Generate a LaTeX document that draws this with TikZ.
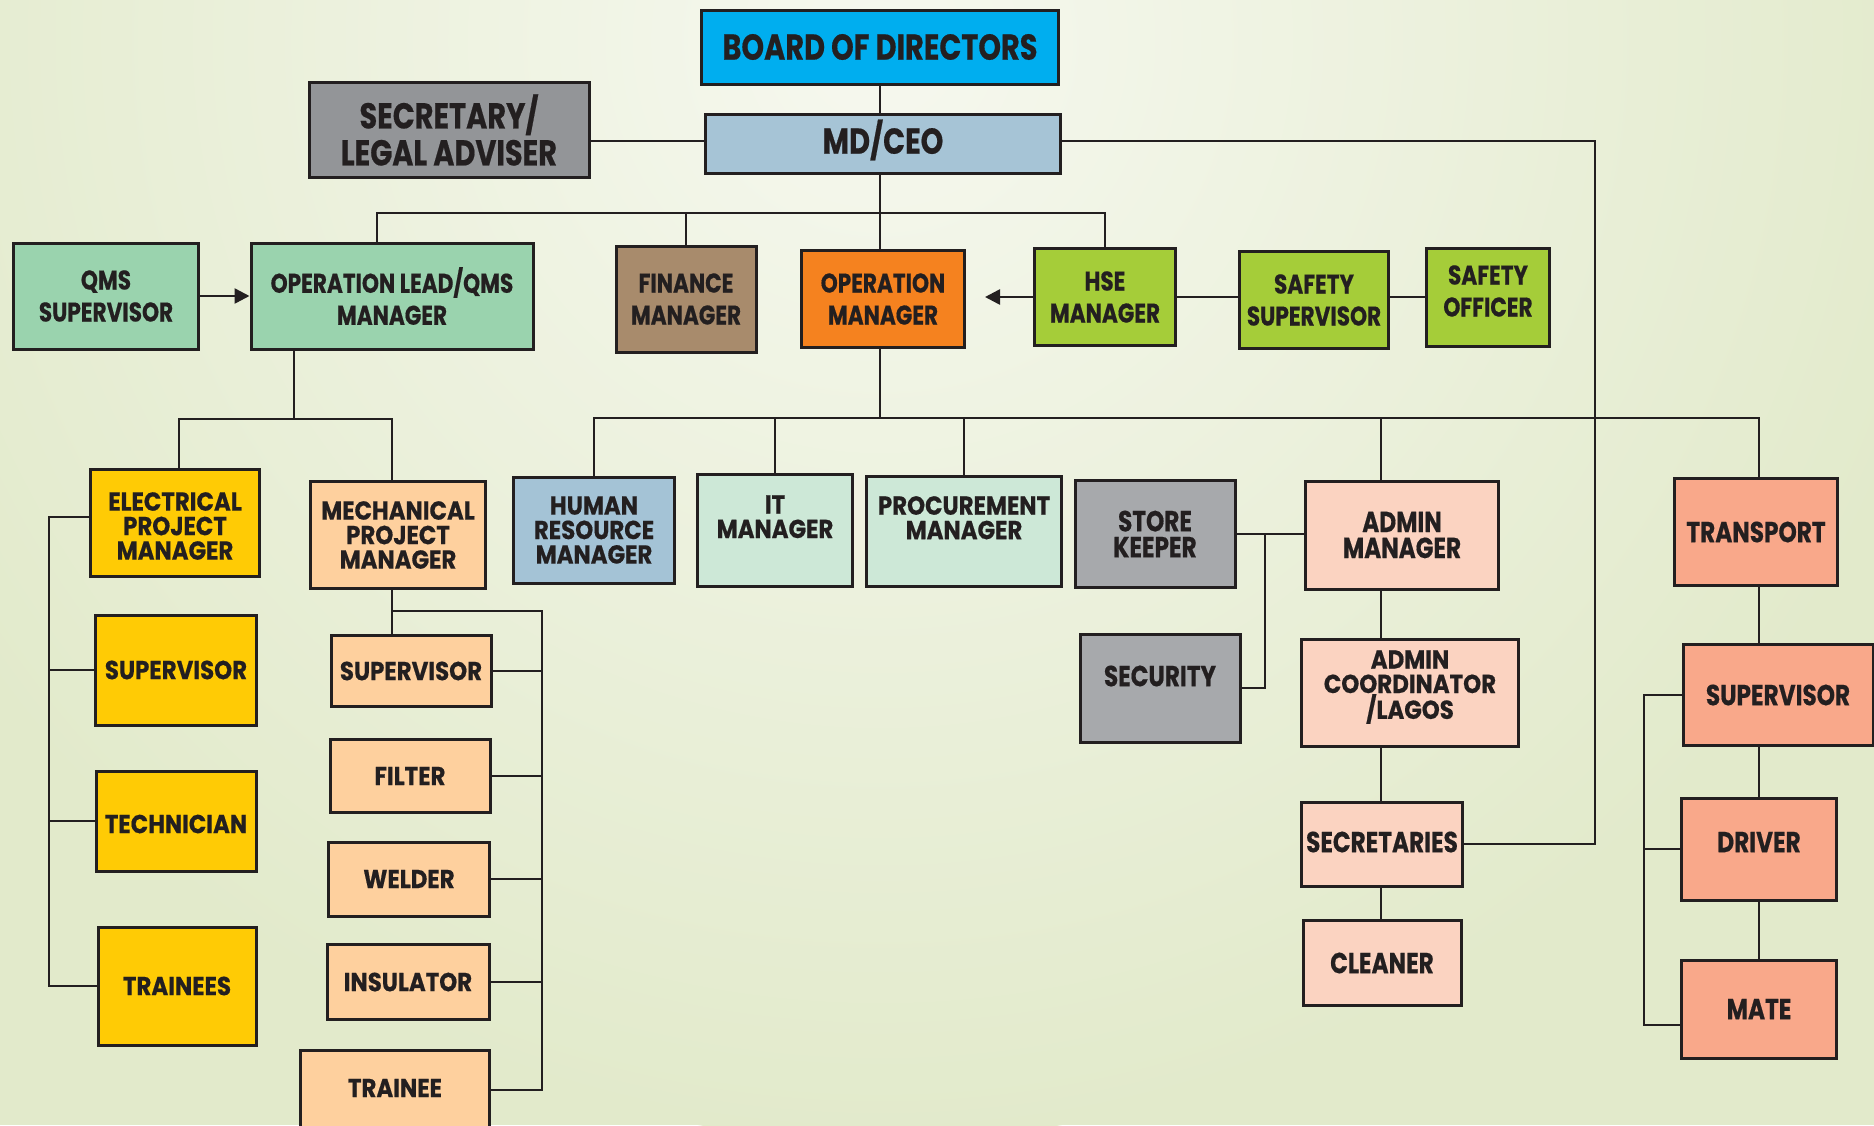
\documentclass[tikz,border=0pt]{standalone}
\usepackage{fontspec}
\usetikzlibrary{arrows.meta}
\newfontfamily\condfont[FakeStretch=0.80, FakeBold=0.5]{Poppins}
\newfontfamily\widefont[FakeStretch=0.88, FakeBold=0.5]{Poppins}
\definecolor{bgin}{HTML}{F6F8EF}
\definecolor{bgout}{HTML}{E2EACB}
\definecolor{ink}{HTML}{231F20}
\definecolor{boardc}{HTML}{00AEEF}
\definecolor{ceoc}{HTML}{A6C4D6}
\definecolor{legalc}{HTML}{939598}
\definecolor{qmsc}{HTML}{9AD3AE}
\definecolor{finc}{HTML}{A88B6C}
\definecolor{opc}{HTML}{F5821F}
\definecolor{hsec}{HTML}{A5CD39}
\definecolor{elecc}{HTML}{FFCB05}
\definecolor{mechc}{HTML}{FED09E}
\definecolor{hrc}{HTML}{A4C3D6}
\definecolor{itc}{HTML}{CDE8D7}
\definecolor{storec}{HTML}{A7A9AC}
\definecolor{adminc}{HTML}{FBD3C1}
\definecolor{transc}{HTML}{F9A88A}
\tikzstyle{unit}=[draw=ink, line width=3pt, inner sep=2pt,
    align=center, text=ink]
\tikzstyle{fbig}=[font=\condfont\bfseries\fontsize{36}{37}\selectfont]
\tikzstyle{fcond}=[font=\condfont\bfseries\fontsize{27}{32}\selectfont]
\tikzstyle{fwide}=[font=\widefont\bfseries\fontsize{26}{24.5}\selectfont]
\tikzstyle{fmed}=[font=\condfont\bfseries\fontsize{29}{26}\selectfont]
\tikzstyle{link}=[draw=ink, line width=2.6pt]
\tikzstyle{tip}=[-{Triangle[length=15pt,width=15pt]}]
\newcommand{\up}[2]{\raisebox{#1}[\height][\depth]{#2}}
\begin{document}
\begin{tikzpicture}[x=1pt, y=-1pt]
    \useasboundingbox (0,0) rectangle (1874,1125);
    \begin{scope}
      \clip (0,0) rectangle (1874,1125);
      \fill[bgout] (0,0) rectangle (1874,1125);
      \shade[inner color=bgin, outer color=bgout] (880,40) circle (1100);
    \end{scope}
    % top of the chart
    \node (board) [unit, fill=boardc, fbig, minimum width=357pt, minimum height=74pt] at (880,47) {BOARD OF DIRECTORS};
    \node (mdceo) [unit, fill=ceoc, fbig, minimum width=355pt, minimum height=59pt] at (883,144) {\up{4pt}{MD/CEO}};
    \node (sec) [unit, fill=legalc, fbig, minimum width=280pt, minimum height=95pt] at (449,130) {SECRETARY/\\LEGAL ADVISER};
    % managers
    \node (qms) [unit, fill=qmsc, fcond, minimum width=185pt, minimum height=106pt] at (106,296) {QMS\\SUPERVISOR};
    \node (oplead) [unit, fill=qmsc, fcond, minimum width=282pt, minimum height=106pt] at (392,296) {OPERATION LEAD/QMS\\MANAGER};
    \node (fin) [unit, fill=finc, fcond, minimum width=140pt, minimum height=106pt] at (686,299) {FINANCE\\MANAGER};
    \node (opman) [unit, fill=opc, fcond, minimum width=163pt, minimum height=97pt] at (883,299) {OPERATION\\MANAGER};
    \node (hse) [unit, fill=hsec, fcond, minimum width=141pt, minimum height=97pt] at (1105,297) {HSE\\MANAGER};
    \node (safsup) [unit, fill=hsec, fcond, minimum width=149pt, minimum height=97pt] at (1314,300) {SAFETY\\SUPERVISOR};
    \node (safoff) [unit, fill=hsec, fcond, minimum width=123pt, minimum height=98pt] at (1488,297) {\up{6pt}{SAFETY}\\\up{6pt}{OFFICER}};
    % electrical column
    \node (elec) [unit, fill=elecc, fwide, minimum width=169pt, minimum height=107pt] at (175,523) {\up{-3pt}{ELECTRICAL}\\\up{-3pt}{PROJECT}\\\up{-3pt}{MANAGER}};
    \node (esup) [unit, fill=elecc, fwide, minimum width=161pt, minimum height=110pt] at (176,670) {SUPERVISOR};
    \node (etech) [unit, fill=elecc, fwide, minimum width=160pt, minimum height=100pt] at (176,821) {\up{-3pt}{TECHNICIAN}};
    \node (etrain) [unit, fill=elecc, fwide, minimum width=158pt, minimum height=118pt] at (177,986) {TRAINEES};
    % mechanical column
    \node (mech) [unit, fill=mechc, fwide, minimum width=175pt, minimum height=107pt] at (398,535) {MECHANICAL\\PROJECT\\MANAGER};
    \node (msup) [unit, fill=mechc, fwide, minimum width=160pt, minimum height=71pt] at (411,671) {SUPERVISOR};
    \node (filter) [unit, fill=mechc, fwide, minimum width=160pt, minimum height=73pt] at (410,776) {FILTER};
    \node (welder) [unit, fill=mechc, fwide, minimum width=161pt, minimum height=74pt] at (409,879) {WELDER};
    \node (insul) [unit, fill=mechc, fwide, minimum width=162pt, minimum height=75pt] at (408,982) {INSULATOR};
    \node (mtrain) [unit, fill=mechc, fwide, minimum width=189pt, minimum height=80pt] at (395,1090) {\up{2pt}{TRAINEE}};
    % under the operation manager
    \node (hr) [unit, fill=hrc, fwide, minimum width=161pt, minimum height=106pt] at (594,530) {HUMAN\\RESOURCE\\MANAGER};
    \node (it) [unit, fill=itc, fwide, minimum width=155pt, minimum height=112pt] at (775,530) {IT\\MANAGER\\[-0.2em]\strut};
    \node (proc) [unit, fill=itc, fwide, minimum width=195pt, minimum height=110pt] at (964,531) {PROCUREMENT\\MANAGER\\[-0.2em]\strut};
    \node (store) [unit, fill=storec, fmed, minimum width=160pt, minimum height=107pt] at (1155,534) {STORE\\KEEPER};
    \node (secur) [unit, fill=storec, fmed, minimum width=160pt, minimum height=108pt] at (1160,688) {\up{12pt}{SECURITY}};
    \node (admin) [unit, fill=adminc, fmed, minimum width=193pt, minimum height=108pt] at (1402,535) {ADMIN\\MANAGER};
    \node (coord) [unit, fill=adminc, fwide, minimum width=217pt, minimum height=107pt] at (1410,693) {\up{6pt}{ADMIN}\\\up{6pt}{COORDINATOR}\\\up{6pt}{/LAGOS}};
    \node (secs) [unit, fill=adminc, fmed, minimum width=161pt, minimum height=84pt] at (1382,844) {\up{2pt}{SECRETARIES}};
    \node (clean) [unit, fill=adminc, fmed, minimum width=158pt, minimum height=85pt] at (1382,963) {CLEANER};
    % transport column
    \node (trans) [unit, fill=transc, fmed, minimum width=163pt, minimum height=107pt] at (1756,532) {TRANSPORT};
    \node (tsup) [unit, fill=transc, fmed, minimum width=190pt, minimum height=101pt] at (1778,695) {SUPERVISOR};
    \node (driver) [unit, fill=transc, fmed, minimum width=155pt, minimum height=102pt] at (1759,849) {\up{7pt}{DRIVER}};
    \node (mate) [unit, fill=transc, fmed, minimum width=155pt, minimum height=98pt] at (1759,1009) {MATE};
    % lines
    \coordinate (bus1) at (880,213);
    \coordinate (bus2) at (880,418);
    \coordinate (bus3) at (294,419);
    \coordinate (rail) at (1595,141);
    \coordinate (mspine) at (392,611);
    \coordinate (eleft) at (49,0);
    \coordinate (mright) at (542,0);
    \coordinate (sbr) at (1265,0);
    \coordinate (aspine) at (1381,0);
    \coordinate (tspine) at (1759,0);
    \coordinate (tleft) at (1644,0);
    \coordinate (matein) at ([yshift=-16pt]mate.west);
    \path [link] (board.south) -- (board.south |- mdceo.north);
    \path [link] (mdceo.west |- rail) -- (sec.east |- rail);
    \path [link] (board.south |- mdceo.south) -- (board.south |- opman.north);
    \path [link] ([xshift=-15pt]oplead.north) |- (hse.north |- bus1) -- (hse.north);
    \path [link] (fin.north) -- (fin.north |- bus1);
    \path [link, tip] (qms.east) -- (oplead.west);
    \path [link, tip, shorten >=19pt] (hse.west) -- (hse.west -| opman.east);
    \path [link] (hse.east) -- (hse.east -| safsup.west);
    \path [link] (safoff.west) -- (safoff.west -| safsup.east);
    \path [link] (mdceo.east |- rail) -- (rail) |- (secs.east);
    % operation manager's line
    \path [link] (board.south |- opman.south) -- (bus2);
    \path [link] (hr.north) |- (tspine |- bus2) -- (tspine |- trans.north);
    \foreach \n in {it,proc}
      \path [link] (\n.north) -- (\n.north |- bus2);
    \path [link] (aspine |- bus2) -- (aspine |- admin.north);
    % project managers
    \path [link] ([xshift=-98pt]oplead.south) -- (bus3);
    \path [link] ([xshift=4pt]elec.north) |- (bus3) -| (mspine |- mech.north);
    \path [link] ([yshift=6pt]elec.west) -| (eleft |- etrain.west) -- (etrain.west);
    \foreach \n in {esup,etech}
      \path [link] (\n.west) -- (eleft |- \n.west);
    \path [link] (mspine |- mech.south) -- (mspine |- msup.north);
    \path [link] (mspine) -| (mright |- mtrain.east) -- (mtrain.east);
    \foreach \n in {msup,filter,welder,insul}
      \path [link] (\n.east) -- (mright |- \n.east);
    % admin
    \path [link] (store.east) -- (store.east -| admin.west);
    \path [link] (secur.east) -| (sbr |- store.east);
    \path [link] (aspine |- admin.south) -- (aspine |- coord.north);
    \path [link] (aspine |- coord.south) -- (aspine |- secs.north);
    \path [link] (aspine |- secs.south) -- (aspine |- clean.north);
    % transport
    \path [link] (tspine |- trans.south) -- (tspine |- tsup.north);
    \path [link] (tspine |- tsup.south) -- (tspine |- driver.north);
    \path [link] (driver.south) -- (mate.north);
    \path [link] (tsup.west) -| (tleft |- matein) -- (matein);
    \path [link] (driver.west) -- (tleft |- driver.west);
\end{tikzpicture}
\end{document}
